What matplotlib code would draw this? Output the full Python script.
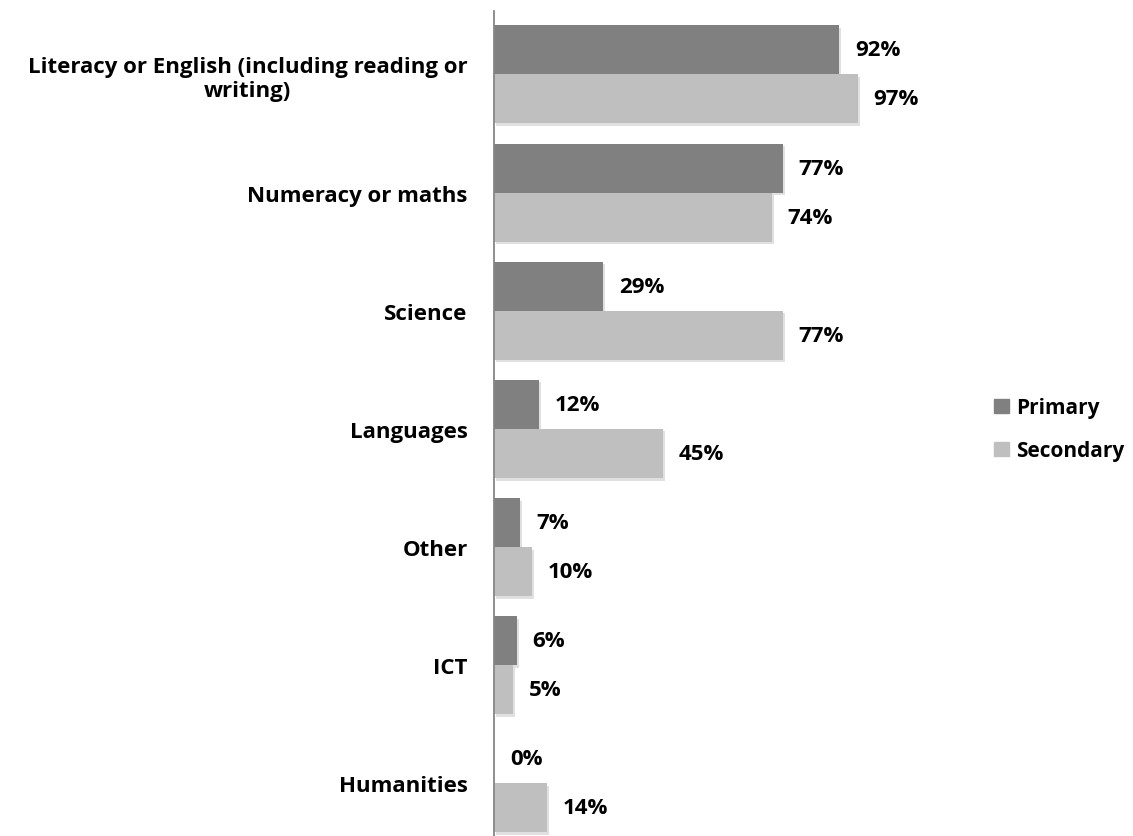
import numpy as np
import matplotlib.pyplot as plt
import matplotlib.patheffects as pe
from matplotlib.patches import Patch

plt.rcParams['font.family'] = ['Open Sans', 'DejaVu Sans']
plt.rcParams['font.weight'] = 'bold'

categories = ['Literacy or English (including reading or\nwriting)',
              'Numeracy or maths', 'Science', 'Languages', 'Other', 'ICT',
              'Humanities']
primary = [92, 77, 29, 12, 7, 6, 0]
secondary = [97, 74, 77, 45, 10, 5, 14]
series_names = ['Primary', 'Secondary']

c_prim = '#808080'
c_sec = '#bfbfbf'
fs = 16

fig = plt.figure(figsize=(11.33, 8.37), dpi=100)
W, H = 1133, 837
# axes: x from 494 px, 3.75 px per percent; y rows spaced ~118 px
ax = fig.add_axes([494 / W, 0, 375 / W, 825 / H])

y = np.arange(len(categories))
h = 0.415
sombra = [pe.SimplePatchShadow(offset=(1.5, -2), shadow_rgbFace='#000000', alpha=0.12),
          pe.Normal()]

b1 = ax.barh(y - h / 2, primary, height=h, color=c_prim)
b2 = ax.barh(y + h / 2, secondary, height=h, color=c_sec)
for b in list(b1) + list(b2):
    b.set_path_effects(sombra)

for yy, v in zip(y - h / 2, primary):
    ax.annotate(f'{v}%', (v, yy), xytext=(16, 0), textcoords='offset pixels',
                va='center', ha='left', fontsize=fs, fontweight='bold')
for yy, v in zip(y + h / 2, secondary):
    ax.annotate(f'{v}%', (v, yy), xytext=(16, 0), textcoords='offset pixels',
                va='center', ha='left', fontsize=fs, fontweight='bold')

ax.set_xlim(0, 100)
top = -0.639 + 12 / 118.1
ax.set_ylim(6.449, top)
ax.set_yticks(y)
ax.set_yticklabels(categories, fontsize=fs, fontweight='bold', multialignment='center')
ax.tick_params(axis='y', length=0, pad=19)
ax.set_xticks([])
for s in ['top', 'right', 'bottom']:
    ax.spines[s].set_visible(False)
ax.spines['left'].set_color('#868686')
ax.spines['left'].set_linewidth(1.3)

handles = [Patch(color=c_prim, label=series_names[0]),
           Patch(color=c_sec, label=series_names[1])]
fig.legend(handles=handles, loc='upper left', bbox_to_anchor=(984 / W, 1 - 388 / H),
           frameon=False, prop={'weight': 'bold', 'size': 15},
           handlelength=0.7, handleheight=0.7, handletextpad=0.35, labelspacing=1.05,
           borderpad=0)

fig.savefig('out.png', dpi=100)
